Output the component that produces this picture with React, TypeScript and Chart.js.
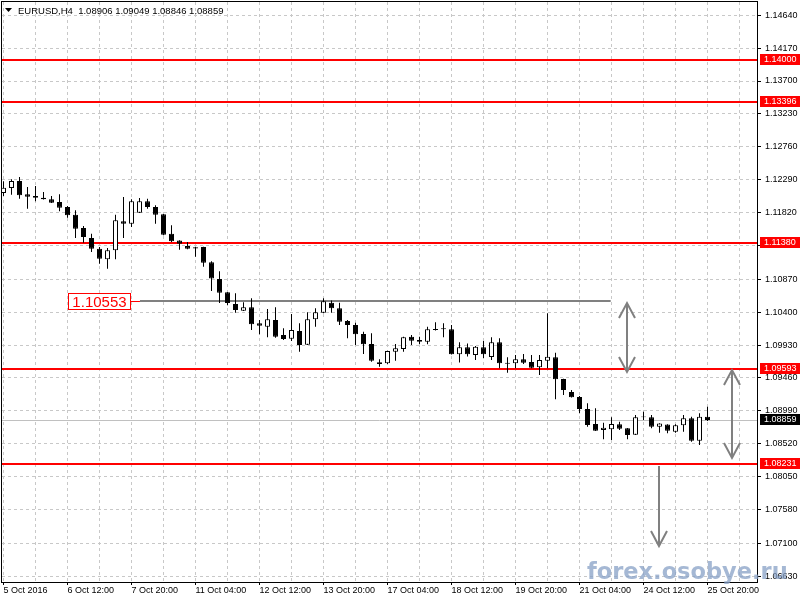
import React, { useEffect, useRef } from 'react';
import { Chart, registerables } from 'chart.js';

Chart.register(...registerables);

// ---- data (EURUSD, H4) ----
const opens = [
  1.12101, 1.12172, 1.12272, 1.12082, 1.12058, 1.12034, 1.12011, 1.11972, 1.11901, 1.11791,
  1.11601, 1.11458, 1.11305, 1.11154, 1.11283, 1.11697, 1.11662, 1.11819, 1.11982, 1.11901,
  1.11797, 1.11520, 1.11422, 1.11344, 1.11325, 1.11330, 1.11111, 1.10873, 1.10684, 1.10516,
  1.10420, 1.10469, 1.10240, 1.10192, 1.10287, 1.10073, 1.10020, 1.10130, 1.09934, 1.10297,
  1.10391, 1.10534, 1.10454, 1.10273, 1.10216, 1.10087, 1.09944, 1.09683, 1.09669, 1.09835,
  1.09873, 1.10049, 1.10002, 1.09977, 1.10159, 1.10169, 1.10154, 1.09797, 1.09897, 1.09787,
  1.09897, 1.09759, 1.09969, 1.09677, 1.09669, 1.09726, 1.09687, 1.09612, 1.09706, 1.09755,
  1.09445, 1.09259, 1.09188, 1.09016, 1.08802, 1.08716, 1.08726, 1.08798, 1.08741, 1.08649,
  1.08898, 1.08898, 1.08764, 1.08796, 1.08692, 1.08783, 1.08883, 1.08564, 1.08906,
];
const highs = [
  1.12268, 1.12296, 1.12329, 1.12186, 1.12201, 1.12115, 1.12058, 1.12082, 1.11915, 1.11854,
  1.11630, 1.11520, 1.11330, 1.11315, 1.11791, 1.12044, 1.12011, 1.12029, 1.12019, 1.11925,
  1.11800, 1.11639, 1.11425, 1.11401, 1.11334, 1.11334, 1.11125, 1.10983, 1.10687, 1.10668,
  1.10540, 1.10597, 1.10287, 1.10444, 1.10469, 1.10169, 1.10373, 1.10240, 1.10397, 1.10454,
  1.10597, 1.10566, 1.10534, 1.10287, 1.10249, 1.10120, 1.10097, 1.09726, 1.09849, 1.09944,
  1.10049, 1.10073, 1.10049, 1.10192, 1.10254, 1.10240, 1.10216, 1.09969, 1.09952, 1.09916,
  1.09987, 1.10040, 1.10026, 1.09755, 1.09787, 1.09802, 1.09787, 1.09787, 1.10383, 1.09820,
  1.09448, 1.09288, 1.09202, 1.09098, 1.09026, 1.08821, 1.08898, 1.08835, 1.08745, 1.08931,
  1.08978, 1.08931, 1.08812, 1.08798, 1.08798, 1.08931, 1.08906, 1.08955, 1.09049,
];
const lows = [
  1.12058, 1.12076, 1.12019, 1.11877, 1.11982, 1.12008, 1.11958, 1.11839, 1.11748, 1.11458,
  1.11391, 1.11258, 1.11091, 1.11020, 1.11154, 1.11458, 1.11615, 1.11815, 1.11877, 1.11662,
  1.11497, 1.11401, 1.11291, 1.11297, 1.11191, 1.11048, 1.10701, 1.10530, 1.10497, 1.10391,
  1.10416, 1.10144, 1.10083, 1.10040, 1.10035, 1.10002, 1.09987, 1.09835, 1.09930, 1.10192,
  1.10385, 1.10391, 1.10216, 1.10026, 1.09930, 1.09802, 1.09692, 1.09620, 1.09659, 1.09706,
  1.09835, 1.09930, 1.09944, 1.09940, 1.10137, 1.10040, 1.09794, 1.09680, 1.09766, 1.09716,
  1.09745, 1.09716, 1.09597, 1.09535, 1.09597, 1.09659, 1.09597, 1.09502, 1.09597, 1.09155,
  1.09216, 1.09180, 1.08955, 1.08764, 1.08703, 1.08584, 1.08574, 1.08716, 1.08584, 1.08645,
  1.08859, 1.08741, 1.08678, 1.08669, 1.08678, 1.08692, 1.08549, 1.08502, 1.08846,
];
const closes = [
  1.12176, 1.12272, 1.12068, 1.12048, 1.12034, 1.12011, 1.11962, 1.11891, 1.11782, 1.11591,
  1.11472, 1.11305, 1.11163, 1.11283, 1.11711, 1.11662, 1.11982, 1.11982, 1.11901, 1.11791,
  1.11505, 1.11411, 1.11377, 1.11305, 1.11310, 1.11105, 1.10880, 1.10677, 1.10530, 1.10430,
  1.10469, 1.10226, 1.10206, 1.10297, 1.10049, 1.10016, 1.10144, 1.09930, 1.10297, 1.10397,
  1.10556, 1.10454, 1.10263, 1.10216, 1.10083, 1.09940, 1.09706, 1.09659, 1.09846, 1.09883,
  1.10040, 1.09992, 1.09977, 1.10154, 1.10145, 1.10154, 1.09797, 1.09897, 1.09797, 1.09906,
  1.09797, 1.09969, 1.09669, 1.09663, 1.09726, 1.09677, 1.09606, 1.09716, 1.09763, 1.09440,
  1.09288, 1.09183, 1.09016, 1.08788, 1.08706, 1.08749, 1.08802, 1.08735, 1.08645, 1.08898,
  1.08911, 1.08764, 1.08810, 1.08706, 1.08783, 1.08883, 1.08564, 1.08906, 1.08859,
];

const timeLabels = [
  '5 Oct 2016', '6 Oct 12:00', '7 Oct 20:00', '11 Oct 04:00', '12 Oct 12:00', '13 Oct 20:00',
  '17 Oct 04:00', '18 Oct 12:00', '19 Oct 20:00', '21 Oct 04:00', '24 Oct 12:00', '25 Oct 20:00',
];
const priceTicks = [
  1.0663, 1.071, 1.0758, 1.0805, 1.0852, 1.0899, 1.0946, 1.0993, 1.104, 1.1087, 1.1135,
  1.1182, 1.1229, 1.1276, 1.1323, 1.137, 1.1417, 1.1464,
];
const levelPrices = [1.14, 1.13396, 1.1138, 1.09593, 1.08231];
const lastPrice = 1.08859;
const titleText = 'EURUSD,H4  1.08906 1.09049 1.08846 1.08859';

// horizontal trend line (price, from bar, to bar)
const trendPrice = 1.10553;
const trendFromBar = 17.06;
const trendToBar = 75.9;

// arrows: bar position, start price, end price, heads
const arrowBars = [77.94, 91.06, 81.94];
const arrowTop = [1.1053, 1.09573, 1.08202];
const arrowBottom = [1.09545, 1.08317, 1.0706];
const arrowDouble = [true, true, false];

const FONT = '"Liberation Sans", Arial, sans-serif';

export default function App() {
  const ref = useRef<HTMLCanvasElement>(null);

  useEffect(() => {
    const canvas = ref.current;
    if (!canvas) return;
    const idx = closes.map((_, i) => i);
    const bodyData = idx.map((i) => ({ x: i, y: [opens[i], closes[i]] }));
    const wickData = idx.map((i) => ({ x: i, y: [lows[i], highs[i]] }));
    const bodyFill = idx.map((i) => (closes[i] >= opens[i] ? '#ffffff' : '#000000'));

    const overlay = {
      id: 'mtOverlay',
      beforeDatasetsDraw(chart: any) {
        const { ctx, chartArea: a, scales } = chart;
        const x = scales.x;
        const y = scales.y;
        const seg = (x1: number, y1: number, x2: number, y2: number) => {
          ctx.beginPath();
          ctx.moveTo(x1, y1);
          ctx.lineTo(x2, y2);
          ctx.stroke();
        };
        ctx.save();
        ctx.strokeStyle = '#c0c0c0';
        ctx.lineWidth = 1;
        const lp = Math.round(y.getPixelForValue(lastPrice)) + 0.5;
        seg(a.left, lp, a.right, lp);
        ctx.strokeStyle = '#ff0000';
        ctx.lineWidth = 2;
        for (const lv of levelPrices) {
          const ly = Math.round(y.getPixelForValue(lv));
          seg(a.left, ly, a.right, ly);
        }
        const ty = Math.round(y.getPixelForValue(trendPrice));
        const tx1 = x.getPixelForValue(trendFromBar);
        const tx2 = x.getPixelForValue(trendToBar);
        ctx.strokeStyle = '#808080';
        ctx.lineWidth = 2;
        seg(tx1, ty, tx2, ty);
        const bw = 62;
        const bh = 16;
        const bx = tx1 - 10 - bw;
        ctx.strokeStyle = '#ff0000';
        ctx.lineWidth = 1;
        seg(bx + bw, ty + 0.5, tx1, ty + 0.5);
        ctx.fillStyle = '#ffffff';
        ctx.fillRect(bx, ty - bh / 2, bw, bh);
        ctx.strokeRect(Math.round(bx) + 0.5, Math.round(ty - bh / 2) + 0.5, bw, bh);
        ctx.fillStyle = '#ff0000';
        ctx.font = '15px ' + FONT;
        ctx.textAlign = 'center';
        ctx.textBaseline = 'middle';
        ctx.fillText(trendPrice.toFixed(5), bx + bw / 2 + 0.5, ty + 1.5);
        ctx.strokeStyle = '#808080';
        ctx.lineWidth = 2;
        ctx.lineCap = 'butt';
        for (let k = 0; k < arrowBars.length; k++) {
          const ax = Math.round(x.getPixelForValue(arrowBars[k]));
          const y1 = y.getPixelForValue(arrowTop[k]);
          const y2 = y.getPixelForValue(arrowBottom[k]);
          seg(ax, y1, ax, y2);
          ctx.beginPath();
          ctx.moveTo(ax - 8, y2 - 15);
          ctx.lineTo(ax, y2);
          ctx.lineTo(ax + 8, y2 - 15);
          ctx.stroke();
          if (arrowDouble[k]) {
            ctx.beginPath();
            ctx.moveTo(ax - 8, y1 + 15);
            ctx.lineTo(ax, y1);
            ctx.lineTo(ax + 8, y1 + 15);
            ctx.stroke();
          }
        }
        ctx.restore();
      },
      afterDraw(chart: any) {
        const { ctx, chartArea: a, scales } = chart;
        const y = scales.y;
        ctx.save();
        ctx.strokeStyle = '#000000';
        ctx.lineWidth = 1;
        ctx.strokeRect(a.left - 0.5, a.top - 0.5, a.right - a.left + 1, a.bottom - a.top + 1);
        ctx.font = '9px ' + FONT;
        ctx.textAlign = 'left';
        ctx.textBaseline = 'middle';
        const box = (p: number, bg: string) => {
          const py = Math.round(y.getPixelForValue(p));
          ctx.fillStyle = bg;
          ctx.fillRect(a.right + 3, py - 6, 800 - a.right - 3, 11);
          ctx.fillStyle = '#ffffff';
          ctx.fillText(p.toFixed(5), a.right + 7, py);
        };
        for (const lv of levelPrices) box(lv, '#ff0000');
        box(lastPrice, '#000000');
        ctx.fillStyle = '#000000';
        ctx.beginPath();
        ctx.moveTo(5, 8);
        ctx.lineTo(12, 8);
        ctx.lineTo(8.5, 12);
        ctx.closePath();
        ctx.fill();
        ctx.font = '9.5px ' + FONT;
        ctx.fillText(titleText, 18, 11);
        ctx.font = 'bold 22.5px "DejaVu Sans", sans-serif';
        ctx.textBaseline = 'alphabetic';
        ctx.fillStyle = 'rgba(135,160,198,0.75)';
        ctx.fillText('forex.osobye.ru', 587, 579);
        ctx.restore();
      },
    };

    const chart = new Chart(canvas, {
      type: 'bar',
      data: {
        datasets: [
          {
            label: 'bodies',
            data: bodyData as any,
            backgroundColor: bodyFill,
            borderColor: '#000000',
            borderWidth: 1,
            borderSkipped: false,
            grouped: false,
            categoryPercentage: 1,
            barPercentage: 0.625,
            inflateAmount: 0,
            order: 0,
          } as any,
          {
            label: 'wicks',
            data: wickData as any,
            backgroundColor: '#000000',
            borderWidth: 0,
            grouped: false,
            categoryPercentage: 1,
            barPercentage: 0.125,
            inflateAmount: 0,
            order: 1,
          } as any,
        ],
      },
      options: {
        responsive: false,
        animation: false,
        devicePixelRatio: 1,
        layout: { padding: { left: 2, top: 2, right: 0, bottom: 0 } },
        plugins: { legend: { display: false }, tooltip: { enabled: false } },
        scales: {
          x: {
            type: 'linear',
            min: -0.1875,
            max: 94.1875,
            offset: false,
            bounds: 'data',
            grid: {
              offset: false,
              color: '#c8c8c8',
              drawTicks: true,
              tickLength: 3,
              tickColor: (c: any) => (c.tick && c.tick.value % 8 === 0 ? '#000000' : 'rgba(0,0,0,0)'),
            },
            border: { display: true, color: '#000000', dash: [3, 3] },
            ticks: {
              autoSkip: false,
              maxRotation: 0,
              minRotation: 0,
              align: 'start',
              padding: 0,
              color: '#000000',
              font: { family: FONT, size: 9 },
              callback: (v: any) => (Number(v) % 8 === 0 ? timeLabels[Number(v) / 8] ?? '' : ''),
            },
            afterBuildTicks: (s: any) => {
              const t = [];
              for (let v = 0; v <= 92; v += 4) t.push({ value: v });
              s.ticks = t;
            },
            afterFit: (s: any) => {
              s.height = 18;
              s.paddingLeft = 0;
              s.paddingRight = 0;
            },
          } as any,
          y: {
            type: 'linear',
            position: 'right',
            min: 1.06546,
            max: 1.148282,
            bounds: 'data',
            beginAtZero: false,
            grid: {
              color: '#c8c8c8',
              drawTicks: true,
              tickLength: 4,
              tickColor: '#000000',
            },
            border: { display: true, color: '#000000', dash: [3, 3] },
            ticks: {
              padding: 4,
              color: '#000000',
              font: { family: FONT, size: 9 },
              callback: (v: any) => Number(v).toFixed(5),
            },
            afterBuildTicks: (s: any) => {
              s.ticks = priceTicks.map((v) => ({ value: v }));
            },
            afterFit: (s: any) => {
              s.width = 43;
              s.paddingTop = 0;
              s.paddingBottom = 0;
            },
          } as any,
        },
      },
      plugins: [overlay],
    } as any);

    return () => chart.destroy();
  }, []);

  return (
    <div style={{ position: 'fixed', left: 0, top: 0, width: 800, height: 600, background: '#ffffff' }}>
      <canvas ref={ref} width={800} height={600} style={{ display: 'block' }} />
    </div>
  );
}
